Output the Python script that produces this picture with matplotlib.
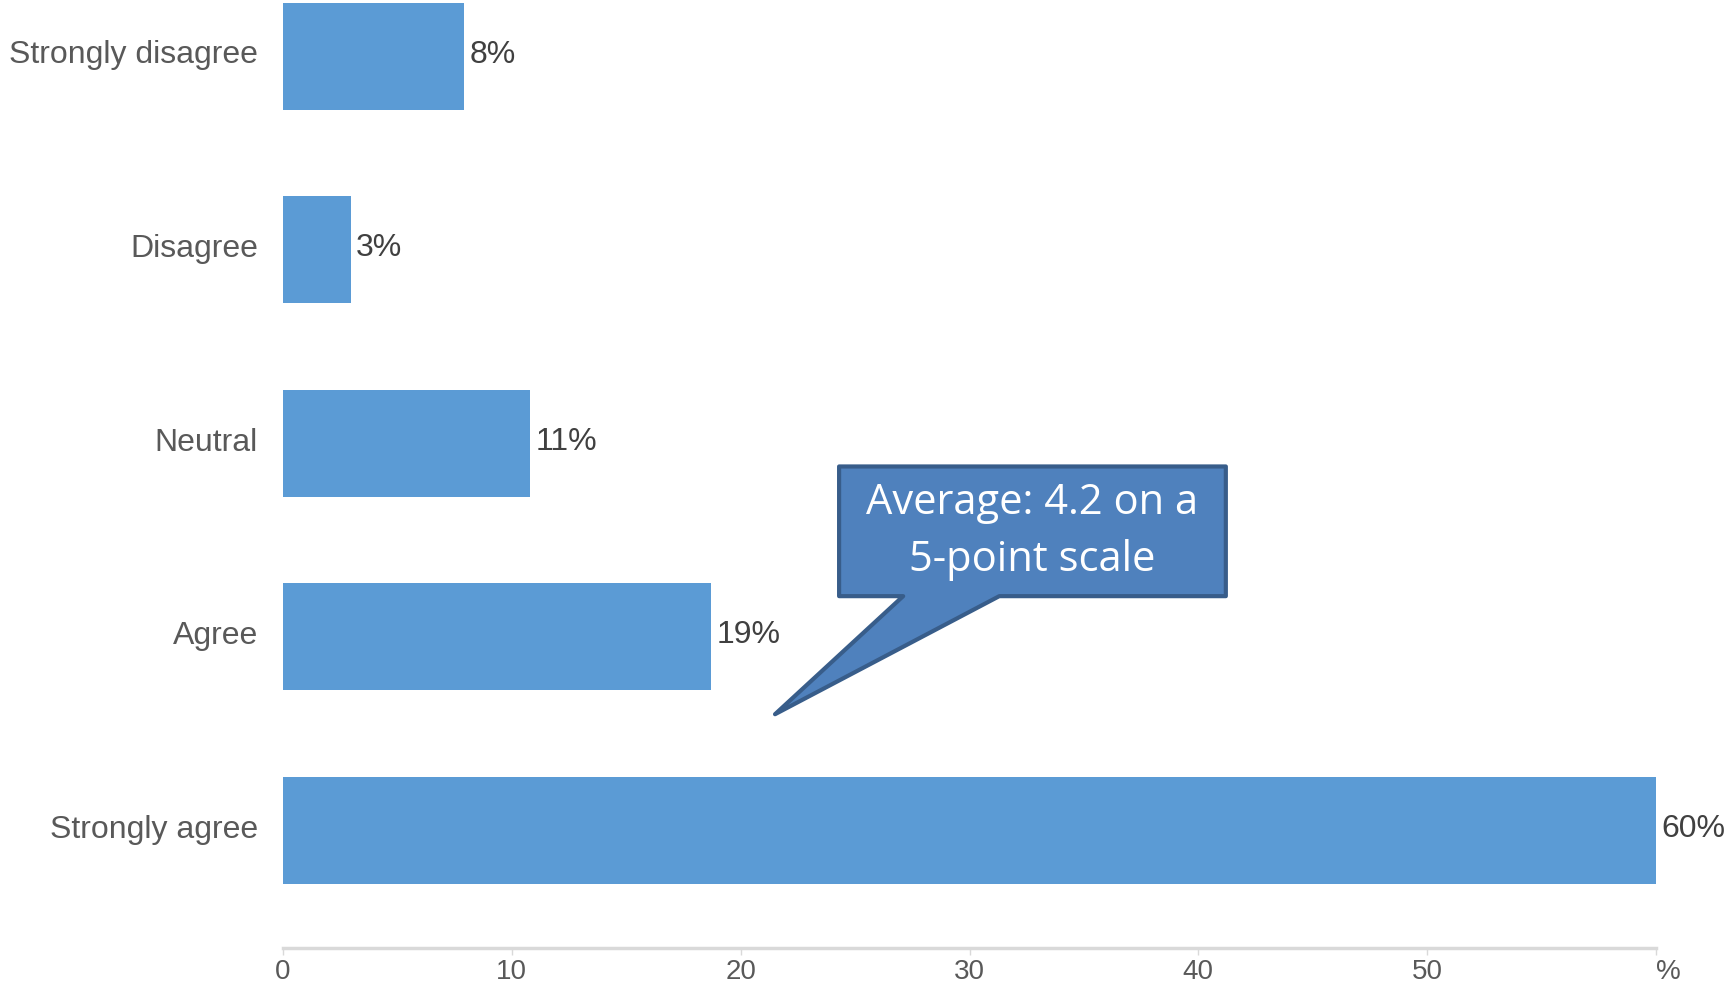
import matplotlib
matplotlib.use("Agg")
import matplotlib.pyplot as plt
from matplotlib.patches import Polygon
from matplotlib.transforms import ScaledTranslation

categories = ["Strongly agree", "Agree", "Neutral", "Disagree", "Strongly disagree"]
values = [60, 18.7, 10.8, 2.95, 7.9]
value_labels = ["60%", "19%", "11%", "3%", "8%"]
xticks = [0, 10, 20, 30, 40, 50, 60]
xtick_labels = ["0", "10", "20", "30", "40", "50", "%"]
callout_text = "Average: 4.2 on a\n5-point scale"

fig = plt.figure(figsize=(17.29, 9.86), dpi=100)
ax = fig.add_axes([0.1637, 0.0385, 0.7941, 0.9615])

bar_color = "#5B9BD5"
ypos = list(range(len(categories)))
ax.barh(ypos, values, height=0.553, color=bar_color, zorder=2)
ax.set_xlim(0, 60)
ax.set_ylim(-0.608, 4.29)

up = ScaledTranslation(0, 3 / 72, fig.dpi_scale_trans)
up_small = ScaledTranslation(0, 1 / 72, fig.dpi_scale_trans)
for y, v, lab in zip(ypos, values, value_labels):
    ax.text(v + 0.25, y, lab, va="center", ha="left", fontsize=23,
            color="#404040", family="Liberation Sans",
            transform=ax.transData + up_small)

ax.set_yticks(ypos)
ax.set_yticklabels(categories, fontsize=23, color="#595959", family="Liberation Sans")
ax.tick_params(axis="y", length=0, pad=18)
for lab in ax.get_yticklabels():
    lab.set_transform(lab.get_transform() + up)

ax.set_xticks(xticks)
ax.set_xticklabels(xtick_labels, fontsize=20, color="#595959",
                   family=["Liberation Sans Narrow", "Liberation Sans"])
ax.tick_params(axis="x", length=5, width=1, color="#D9D9D9", pad=3)
ax.get_xticklabels()[-1].set_horizontalalignment("left")

for s in ["top", "right", "left"]:
    ax.spines[s].set_visible(False)
ax.spines["bottom"].set_color("#D9D9D9")
ax.spines["bottom"].set_linewidth(2.5)

# Callout (speech bubble) in data coordinates
x0, x1 = 24.3, 41.2
y0, y1 = 1.21, 1.88
tail_l, tail_r = 27.1, 31.3
tip = (21.5, 0.60)
poly = Polygon([(x0, y1), (x1, y1), (x1, y0), (tail_r, y0), tip, (tail_l, y0), (x0, y0)],
               closed=True, facecolor="#4F81BD", edgecolor="#385D8A", linewidth=3,
               joinstyle="round", zorder=5)
ax.add_patch(poly)
ax.text((x0 + x1) / 2, (y0 + y1) / 2, callout_text, ha="center", va="center",
        fontsize=30, color="white", family="Open Sans", linespacing=1.45, zorder=6)

fig.savefig("out.png", dpi=100)
